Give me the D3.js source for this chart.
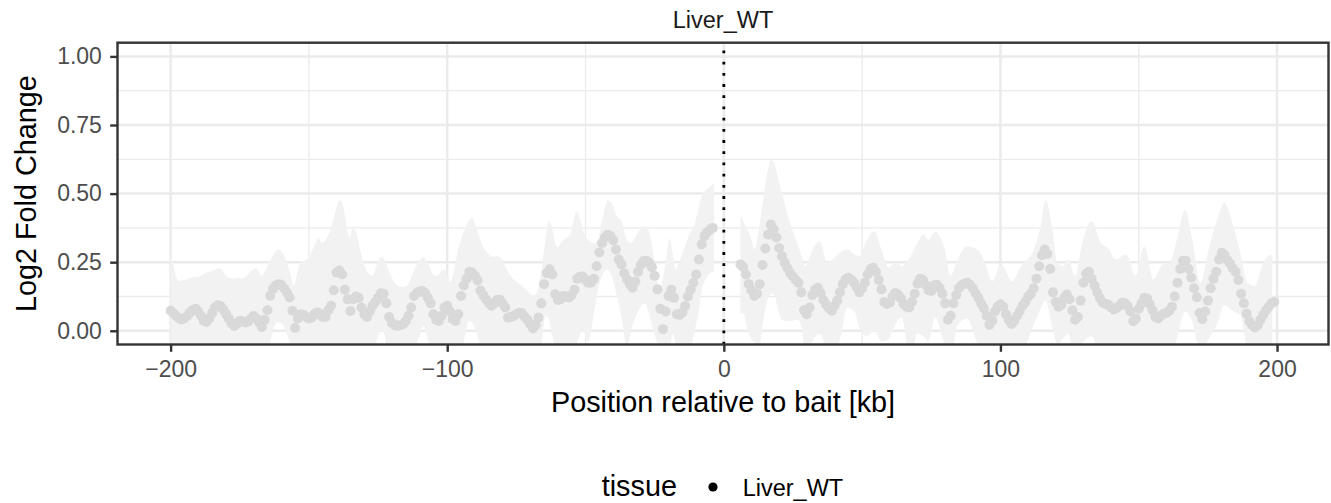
<!DOCTYPE html>
<html><head><meta charset="utf-8">
<script src="https://cdn.jsdelivr.net/npm/d3@7"></script>
<style>
body{margin:0;background:#fff;}
svg{display:block;font-family:"Liberation Sans",Arial,Helvetica,sans-serif;}
</style>
</head><body>
<svg id="chart" width="1331" height="503"></svg>
<script>
// ---------------- data ----------------
const panelTitle = "Liver_WT";
const legendTitle = "tissue";
const legendLabels = ["Liver_WT"];
const xTitle = "Position relative to bait [kb]";
const yTitle = "Log2 Fold Change";
const xTicks = [-200, -100, 0, 100, 200];
const xMinor = [-150, -50, 50, 150];
const yTicks = [0, 0.25, 0.5, 0.75, 1];
const yMinor = [0.125, 0.375, 0.625, 0.875];
const baitPosition = 0;

// points left of the bait: one bin per kb starting at leftStart
const leftStart = -200;
const leftValues = [
0.073,0.064,0.054,0.046,0.041,0.046,0.055,0.066,0.076,0.080,
0.070,0.055,0.036,0.032,0.045,0.065,0.085,0.093,0.090,0.078,
0.062,0.045,0.028,0.018,0.026,0.036,0.035,0.030,0.033,0.045,
0.054,0.045,0.030,0.014,0.040,0.075,0.128,0.152,0.165,0.170,
0.168,0.155,0.140,0.121,0.073,0.010,0.045,0.060,0.058,0.050,
0.045,0.048,0.060,0.067,0.060,0.050,0.050,0.075,0.091,0.148,
0.212,0.220,0.205,0.150,0.115,0.072,0.115,0.125,0.120,0.085,
0.060,0.050,0.070,0.091,0.105,0.120,0.137,0.135,0.100,0.050,
0.028,0.020,0.018,0.020,0.024,0.035,0.055,0.085,0.127,0.138,
0.143,0.145,0.138,0.120,0.100,0.060,0.040,0.036,0.055,0.085,
0.091,0.070,0.042,0.036,0.060,0.127,0.165,0.190,0.215,0.212,
0.200,0.183,0.147,0.130,0.115,0.102,0.091,0.100,0.112,0.113,
0.100,0.085,0.048,0.050,0.054,0.060,0.066,0.064,0.050,0.040,
0.025,0.008,0.020,0.048,0.100,0.170,0.210,0.224,0.205,0.133,
0.112,0.115,0.127,0.125,0.121,0.130,0.150,0.190,0.197,0.198,
0.185,0.175,0.175,0.190,0.235,0.285,0.320,0.340,0.350,0.345,
0.330,0.296,0.260,0.242,0.210,0.188,0.170,0.157,0.180,0.215,
0.240,0.254,0.255,0.248,0.232,0.200,0.151,0.080,0.006,0.070,
0.127,0.150,0.120,0.060,0.058,0.067,0.090,0.125,0.150,0.175,
0.205,0.260,0.315,0.345,0.360,0.368,0.375
];

// points right of the bait: one bin per kb starting at rightStart
const rightStart = 6;
const rightValues = [
0.242,0.232,0.205,0.170,0.148,0.127,0.135,0.170,0.240,0.300,
0.350,0.387,0.370,0.340,0.302,0.272,0.248,0.228,0.210,0.198,
0.185,0.175,0.140,0.075,0.060,0.085,0.130,0.150,0.157,0.138,
0.112,0.095,0.082,0.073,0.090,0.110,0.140,0.170,0.188,0.193,
0.186,0.176,0.158,0.140,0.155,0.175,0.205,0.224,0.230,0.215,
0.185,0.151,0.105,0.098,0.102,0.125,0.138,0.132,0.118,0.097,
0.088,0.085,0.105,0.135,0.172,0.190,0.185,0.168,0.148,0.145,
0.165,0.168,0.156,0.135,0.100,0.040,0.055,0.100,0.130,0.155,
0.166,0.172,0.175,0.168,0.155,0.138,0.120,0.100,0.082,0.055,
0.022,0.036,0.070,0.088,0.097,0.088,0.060,0.040,0.025,0.036,
0.055,0.072,0.092,0.105,0.124,0.135,0.155,0.190,0.235,0.275,
0.296,0.280,0.225,0.140,0.105,0.088,0.095,0.120,0.132,0.115,
0.075,0.040,0.050,0.110,0.175,0.208,0.215,0.190,0.165,0.140,
0.118,0.102,0.098,0.095,0.085,0.078,0.083,0.090,0.102,0.100,
0.090,0.070,0.035,0.045,0.080,0.100,0.120,0.118,0.097,0.075,
0.050,0.045,0.055,0.062,0.066,0.072,0.088,0.125,0.175,0.225,
0.255,0.255,0.225,0.193,0.155,0.122,0.065,0.042,0.070,0.110,
0.155,0.190,0.215,0.260,0.284,0.275,0.258,0.245,0.228,0.215,
0.185,0.135,0.100,0.062,0.035,0.020,0.012,0.020,0.040,0.058,
0.075,0.088,0.100,0.105
];

// ribbon (confidence band), left segment
const ribbonLeftX = [-200,-199,-198,-197,-195,-193,-191,-189,-187,-185,-183,-182,-181,-179,-177,-176,-174,-172,-170,-169,-168,-167,-166,-164,-162,-161,-160,-158,-156.5,-155.5,-154,-153,-151,-150,-148,-146.5,-145.5,-144,-142.5,-141,-140,-139,-138,-137,-136,-135.3,-134,-133,-131.5,-130,-128,-127,-125.5,-124,-123,-121,-119,-118,-116,-114.5,-112,-110,-108.5,-107,-105,-103.5,-102,-101,-99,-98,-96,-94,-92,-91,-90,-88,-87,-85,-84,-82,-80.5,-79,-77,-75,-73,-71,-69,-67.5,-66,-64.5,-63.3,-62,-61,-60,-58.5,-57,-55.5,-53.3,-52,-51,-49,-47,-45.5,-44,-42,-41,-38.5,-37,-35,-33.5,-31,-28.5,-27,-26,-24.5,-23.5,-22.5,-21,-19.6,-18.5,-17.5,-16.5,-15.3,-14,-12.3,-10.5,-9.3,-7.7,-6.5,-5,-3.5];
const ribbonLeftUpper = [0.290,0.240,0.200,0.182,0.185,0.192,0.196,0.200,0.212,0.218,0.226,0.228,0.215,0.193,0.190,0.193,0.190,0.205,0.225,0.228,0.210,0.200,0.215,0.255,0.290,0.296,0.290,0.250,0.200,0.163,0.220,0.250,0.260,0.270,0.310,0.339,0.320,0.330,0.360,0.410,0.450,0.478,0.470,0.420,0.360,0.339,0.375,0.360,0.296,0.240,0.205,0.200,0.240,0.270,0.265,0.215,0.175,0.165,0.160,0.165,0.220,0.258,0.268,0.245,0.205,0.200,0.220,0.222,0.178,0.200,0.300,0.360,0.405,0.411,0.390,0.330,0.305,0.280,0.270,0.272,0.265,0.235,0.200,0.180,0.165,0.145,0.128,0.140,0.220,0.330,0.402,0.370,0.320,0.305,0.325,0.339,0.350,0.435,0.410,0.370,0.330,0.320,0.330,0.400,0.476,0.470,0.416,0.400,0.330,0.320,0.360,0.381,0.360,0.310,0.200,0.150,0.170,0.250,0.337,0.280,0.225,0.240,0.271,0.310,0.355,0.390,0.440,0.500,0.512,0.525,0.540];
const ribbonLeftLower = [-0.144,-0.110,-0.090,-0.090,-0.093,-0.065,-0.060,-0.090,-0.150,-0.090,-0.060,-0.060,-0.070,-0.100,-0.154,-0.140,-0.120,-0.140,-0.117,-0.140,-0.150,-0.170,-0.135,-0.040,0.025,0.030,0.028,-0.010,-0.060,-0.100,-0.130,-0.130,-0.160,-0.180,-0.190,-0.210,-0.220,-0.230,-0.190,-0.110,-0.070,-0.070,-0.080,-0.120,-0.130,-0.180,-0.145,-0.110,-0.140,-0.120,-0.070,-0.060,-0.040,0.000,-0.005,-0.115,-0.135,-0.130,-0.110,-0.075,-0.060,-0.020,0.018,-0.030,-0.085,-0.124,-0.110,-0.060,-0.060,-0.116,-0.180,-0.040,0.036,0.030,0.010,-0.050,-0.060,-0.076,-0.088,-0.060,-0.060,-0.065,-0.100,-0.060,-0.060,-0.065,-0.110,-0.070,-0.050,0.054,0.046,-0.020,-0.070,-0.080,-0.075,-0.090,-0.100,-0.050,-0.016,0.000,-0.040,0.060,0.150,0.200,0.223,0.210,0.120,0.050,-0.060,0.000,0.070,0.100,0.060,0.020,-0.030,-0.060,-0.090,-0.110,-0.080,-0.010,-0.045,-0.120,-0.140,-0.130,-0.075,0.000,0.060,0.160,0.190,0.210,0.215];

// ribbon, right segment
const ribbonRightX = [6,7,8.5,10,11.1,12.5,14,15.5,17,18.3,19.5,21,23.6,26.9,28.2,29.5,32.1,34.7,37.4,39.5,41.9,44.6,47.2,49.1,51.8,54.4,57,59.6,62.3,64.2,67.5,70,72.1,74,76.3,79.9,81.9,84.5,87.8,91.7,94.4,97,100.3,104.2,107.5,112.1,114.5,116.3,118.6,120.6,122.5,124.5,127.1,129.1,133,136.3,138.9,141.5,145.5,148.8,152,155.3,158.6,161.2,163.5,166.8,169.1,172.4,175,178.3,180.9,184.2,186.7,189.3,192,194.6,196.6,198.3];
const ribbonRightUpper = [0.423,0.400,0.369,0.330,0.296,0.360,0.460,0.560,0.623,0.610,0.560,0.502,0.405,0.308,0.270,0.236,0.296,0.326,0.248,0.262,0.284,0.296,0.278,0.272,0.333,0.363,0.296,0.230,0.254,0.235,0.272,0.320,0.351,0.333,0.360,0.296,0.200,0.260,0.308,0.296,0.248,0.181,0.242,0.181,0.236,0.296,0.380,0.478,0.381,0.248,0.236,0.260,0.200,0.296,0.399,0.320,0.302,0.260,0.278,0.200,0.308,0.187,0.242,0.248,0.320,0.441,0.345,0.175,0.284,0.405,0.466,0.381,0.284,0.175,0.163,0.236,0.272,0.278];
const ribbonRightLower = [0.060,0.064,0.010,-0.034,-0.042,-0.080,0.020,0.100,0.135,0.130,0.080,0.040,0.035,0.040,0.010,-0.100,-0.036,-0.012,-0.070,-0.080,-0.034,0.084,0.070,0.008,-0.020,0.000,-0.040,-0.030,0.030,0.050,-0.100,-0.010,-0.020,-0.040,0.048,-0.056,-0.100,0.020,0.045,-0.046,-0.090,-0.110,-0.050,-0.130,-0.090,0.024,0.080,0.110,0.020,-0.050,-0.030,-0.010,-0.120,-0.056,-0.020,-0.100,-0.110,-0.100,-0.090,-0.140,-0.070,-0.060,-0.120,-0.100,-0.040,0.070,0.040,-0.075,-0.034,0.025,0.094,0.070,0.056,-0.075,-0.140,-0.146,-0.120,-0.080];

// ---------------- drawing ----------------
const P = {l: 117.5, r: 1328.5, t: 42.7, b: 344.5};
const x = d3.scaleLinear().domain([-219.2, 218.6]).range([P.l, P.r]);
const y = d3.scaleLinear().domain([-0.05, 1.05]).range([P.b, P.t]);
const svg = d3.select('#chart');

svg.append('rect').attr('width', 1331).attr('height', 503).attr('fill', '#fff');

svg.append('defs').append('clipPath').attr('id', 'clip')
  .append('rect').attr('x', P.l).attr('y', P.t).attr('width', P.r - P.l).attr('height', P.b - P.t);

const g = svg.append('g').attr('clip-path', 'url(#clip)');

const GRID = '#EBEBEB';
g.selectAll('line.ymin').data(yMinor).join('line').attr('class', 'ymin')
  .attr('x1', P.l).attr('x2', P.r).attr('y1', d => y(d)).attr('y2', d => y(d))
  .attr('stroke', GRID).attr('stroke-width', 1.3);
g.selectAll('line.xmin').data(xMinor).join('line').attr('class', 'xmin')
  .attr('y1', P.t).attr('y2', P.b).attr('x1', d => x(d)).attr('x2', d => x(d))
  .attr('stroke', GRID).attr('stroke-width', 1.3);
g.selectAll('line.ymaj').data(yTicks).join('line').attr('class', 'ymaj')
  .attr('x1', P.l).attr('x2', P.r).attr('y1', d => y(d)).attr('y2', d => y(d))
  .attr('stroke', GRID).attr('stroke-width', 2.5);
g.selectAll('line.xmaj').data(xTicks).join('line').attr('class', 'xmaj')
  .attr('y1', P.t).attr('y2', P.b).attr('x1', d => x(d)).attr('x2', d => x(d))
  .attr('stroke', GRID).attr('stroke-width', 2.5);

// ribbon
const area = d3.area().x(d => x(d.x)).y0(d => y(d.lo)).y1(d => y(d.hi)).curve(d3.curveMonotoneX);
const ribLeft = ribbonLeftX.map((v, i) => ({x: v, hi: ribbonLeftUpper[i], lo: ribbonLeftLower[i]}));
const ribRight = ribbonRightX.map((v, i) => ({x: v, hi: ribbonRightUpper[i], lo: ribbonRightLower[i]}));
[ribLeft, ribRight].forEach(seg => {
  g.append('path').datum(seg).attr('d', area).attr('fill', '#F2F2F2');
});

// points
const points = leftValues.map((v, i) => ({x: leftStart + i, y: v}))
  .concat(rightValues.map((v, i) => ({x: rightStart + i, y: v})));
g.selectAll('circle.pt').data(points).join('circle').attr('class', 'pt')
  .attr('cx', d => x(d.x)).attr('cy', d => y(d.y)).attr('r', 5)
  .attr('fill', '#D9D9D9');

// bait line
g.append('line').attr('x1', x(baitPosition)).attr('x2', x(baitPosition))
  .attr('y1', P.b).attr('y2', P.t)
  .attr('stroke', '#000').attr('stroke-width', 2.8).attr('stroke-dasharray', '2.8 8.4');

// panel border
svg.append('rect').attr('x', P.l).attr('y', P.t).attr('width', P.r - P.l).attr('height', P.b - P.t)
  .attr('fill', 'none').attr('stroke', '#333333').attr('stroke-width', 2.4);

// axes
const xAxis = d3.axisBottom(x).tickValues(xTicks).tickSize(7.3).tickPadding(8.5).tickFormat(d3.format('d'));
const yAxis = d3.axisLeft(y).tickValues(yTicks).tickSize(7.3).tickPadding(8.3).tickFormat(d3.format('.2f'));
const gx = svg.append('g').attr('transform', `translate(0,${P.b})`).call(xAxis);
const gy = svg.append('g').attr('transform', `translate(${P.l},0)`).call(yAxis);
[gx, gy].forEach(a => {
  a.select('.domain').remove();
  a.selectAll('.tick line').attr('stroke', '#333333').attr('stroke-width', 2.4);
  a.selectAll('.tick text').attr('fill', '#4D4D4D').style('font-size', '23px')
    .style('font-family', '"Liberation Sans",Arial,sans-serif');
});

// strip title
svg.append('text').attr('x', (P.l + P.r) / 2).attr('y', 28).attr('text-anchor', 'middle')
  .attr('fill', '#1A1A1A').style('font-size', '23.5px').text(panelTitle);

// axis titles
svg.append('text').attr('x', (P.l + P.r) / 2).attr('y', 412).attr('text-anchor', 'middle')
  .attr('fill', '#000').style('font-size', '28.8px').text(xTitle);
svg.append('text').attr('transform', `translate(36,${(P.t + P.b) / 2}) rotate(-90)`)
  .attr('text-anchor', 'middle').attr('fill', '#000').style('font-size', '28.8px').text(yTitle);

// legend
const lg = svg.append('g');
lg.append('text').attr('x', 601.7).attr('y', 496).attr('fill', '#000').style('font-size', '28.8px').text(legendTitle);
lg.selectAll('circle').data(legendLabels).join('circle')
  .attr('cx', 713).attr('cy', 487).attr('r', 4.6).attr('fill', '#000');
lg.selectAll('text.lab').data(legendLabels).join('text').attr('class', 'lab')
  .attr('x', 742.7).attr('y', 495.5).attr('fill', '#000').style('font-size', '23.5px').text(d => d);
</script>
</body></html>
